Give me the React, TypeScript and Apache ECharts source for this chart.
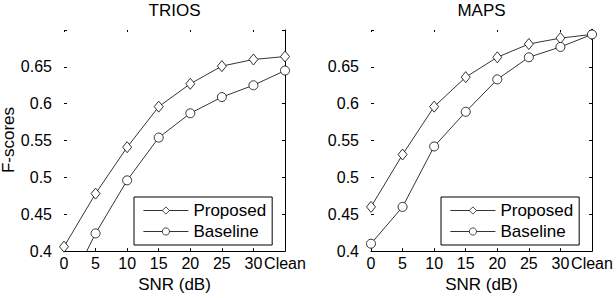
import React, { useEffect, useRef } from "react";
import * as echarts from "echarts";

const categories = ["0", "5", "10", "15", "20", "25", "30", "Clean"];
const triosProposed = [0.406, 0.478, 0.541, 0.596, 0.627, 0.651, 0.66, 0.664];
const triosBaseline = [0.338, 0.424, 0.496, 0.554, 0.587, 0.609, 0.625, 0.645];
const mapsProposed = [0.46, 0.531, 0.596, 0.636, 0.663, 0.681, 0.689, 0.694];
const mapsBaseline = [0.41, 0.46, 0.542, 0.589, 0.633, 0.663, 0.677, 0.694];
const titles = ["TRIOS", "MAPS"];
const seriesNames = ["Proposed", "Baseline"];

const FONT = "'Liberation Sans', Arial, Helvetica, sans-serif";

export default function App() {
  const ref = useRef<HTMLDivElement>(null);
  useEffect(() => {
    if (!ref.current) return;
    const chart = echarts.init(ref.current, null, { renderer: "svg" });
    const grids = [
      { left: 64, top: 30, width: 221, height: 223 },
      { left: 371, top: 30, width: 221, height: 223 },
    ];
    const xAxes: any[] = [];
    const yAxes: any[] = [];
    grids.forEach((g, i) => {
      xAxes.push({
        type: "category",
        gridIndex: i,
        position: "bottom",
        data: categories,
        boundaryGap: false,
        axisLine: { show: true, lineStyle: { color: "#000", width: 1 } },
        axisTick: { show: true, inside: true, length: 3, lineStyle: { color: "#000" } },
        axisLabel: { interval: 0, color: "#000", fontSize: 16, fontFamily: FONT, margin: 4 },
        name: "SNR (dB)",
        nameLocation: "middle",
        nameGap: 21,
        nameTextStyle: { color: "#000", fontSize: 17, fontFamily: FONT },
        splitLine: { show: false },
      });
      xAxes.push({
        type: "category",
        gridIndex: i,
        position: "top",
        data: categories,
        boundaryGap: false,
        axisLine: { show: false },
        axisTick: { show: true, inside: true, length: 2, lineStyle: { color: "#000" } },
        axisLabel: { show: false },
        splitLine: { show: false },
      });
      yAxes.push({
        type: "value",
        gridIndex: i,
        position: "left",
        min: 0.4,
        max: 0.7,
        interval: 0.05,
        axisLine: { show: false },
        axisTick: { show: true, inside: true, length: 3, lineStyle: { color: "#000" } },
        axisLabel: {
          color: "#000",
          fontSize: 16,
          fontFamily: FONT,
          margin: 12,
          formatter: (v: number) => (v > 0.68 ? "" : String(+v.toFixed(2))),
        },
        splitLine: { show: false },
      });
      yAxes.push({
        type: "value",
        gridIndex: i,
        position: "right",
        min: 0.4,
        max: 0.7,
        interval: 0.05,
        axisLine: { show: true, lineStyle: { color: "#000", width: 1 } },
        axisTick: { show: true, inside: true, length: 3, lineStyle: { color: "#000" } },
        axisLabel: { show: false },
        splitLine: { show: false },
      });
    });
    const mk = (name: string, data: number[], idx: number, symbol: string, size: any) => ({
      name,
      type: "line",
      xAxisIndex: idx * 2,
      yAxisIndex: idx * 2,
      data,
      symbol,
      symbolSize: size,
      showAllSymbol: true,
      clip: true,
      lineStyle: { color: "#000", width: 0.8 },
      itemStyle: { color: "#fff", borderColor: "#000", borderWidth: 0.8 },
      emphasis: { disabled: true },
    });
    const series = [
      mk(seriesNames[0], triosProposed, 0, "diamond", [9, 11]),
      mk(seriesNames[1], triosBaseline, 0, "circle", 9),
      mk(seriesNames[0], mapsProposed, 1, "diamond", [9, 11]),
      mk(seriesNames[1], mapsBaseline, 1, "circle", 9),
    ];
    const legendBase = (left: number) => ({
      orient: "vertical",
      left,
      top: 197,
      data: seriesNames,
      backgroundColor: "#fff",
      borderColor: "#000",
      borderWidth: 1,
      borderRadius: 0,
      padding: [5, 6, 5, 9],
      itemGap: 4,
      itemWidth: 45,
      itemHeight: 9,
      selectedMode: false,
      itemStyle: { color: "#fff", borderColor: "#000", borderWidth: 0.7 },
      lineStyle: { color: "#000", width: 0.8 },
      textStyle: { color: "#000", fontSize: 17, fontFamily: FONT },
    });
    chart.setOption({
      animation: false,
      backgroundColor: "#fff",
      grid: grids,
      xAxis: xAxes,
      yAxis: yAxes,
      series,
      legend: [legendBase(134), legendBase(441)],
      graphic: [
        {
          type: "text",
          x: 174.5,
          y: 10,
          style: { text: titles[0], fill: "#000", fontSize: 17, fontFamily: FONT, align: "center", verticalAlign: "middle" },
        },
        {
          type: "text",
          x: 481.5,
          y: 10,
          style: { text: titles[1], fill: "#000", fontSize: 17, fontFamily: FONT, align: "center", verticalAlign: "middle" },
        },
        {
          type: "text",
          x: 8,
          y: 140,
          rotation: Math.PI / 2,
          style: { text: "F-scores", fill: "#000", fontSize: 17, fontFamily: FONT, align: "center", verticalAlign: "middle" },
        },
      ],
    });
    return () => chart.dispose();
  }, []);
  return (
    <div
      ref={ref}
      style={{ position: "fixed", left: 0, top: 0, width: 616, height: 298, background: "#fff" }}
    />
  );
}
